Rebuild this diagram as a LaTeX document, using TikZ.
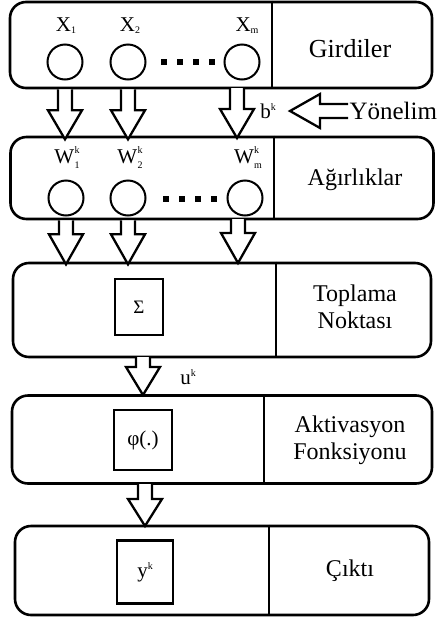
\documentclass[tikz,border=0pt]{standalone}
\usepackage{fontspec}
\setmainfont{Liberation Serif}
\usetikzlibrary{calc}
\newcommand{\subonly}[2]{#1\raisebox{-2pt}{\fontsize{10}{10}\selectfont #2}}
\newcommand{\suponly}[2]{#1\raisebox{8pt}{\fontsize{10}{10}\selectfont #2}}
\newcommand{\supsubA}[3]{#1\kern0.3pt\raisebox{-5pt}{\fontsize{10}{10}\selectfont\begin{tabular}[b]{@{}l@{}}#2\\[5pt]#3\end{tabular}}}
\tikzset{
  box/.style={draw, line width=2.6pt, rounded corners=16pt, inner sep=0pt},
  divline/.style={line width=2.4pt},
  circ/.style={draw, circle, line width=2pt, minimum size=35pt, inner sep=0pt},
  sq/.style={fill, minimum size=6.5pt, inner sep=0pt},
  opbox/.style={draw, line width=2.6pt, inner sep=0pt},
  lbl/.style={font=\fontsize{21}{21}\selectfont},
  side/.style={font=\fontsize{24}{27}\selectfont, align=center},
  arrline/.style={draw, fill=white, line width=2.3pt, line join=miter},
  pics/darrow/.style args={#1/#2}{code={
    \draw[arrline] (-7,0) -- (-7,#1-#2) -- (-17,#1-#2) -- (0,#1) -- (17,#1-#2) -- (7,#1-#2) -- (7,0);
  }},
}
\begin{document}
\begin{tikzpicture}[x=1pt,y=-1pt]
\useasboundingbox (0,0) rectangle (440,619);
% boxes
\node[box, minimum width=422pt, minimum height=86pt] (b1) at (221,45) {};
\node[box, minimum width=423pt, minimum height=82pt] (b2) at (222,178) {};
\node[box, minimum width=418pt, minimum height=94pt] (b3) at (222,310) {};
\node[box, minimum width=420pt, minimum height=88pt] (b4) at (222,439.5) {};
\node[box, minimum width=414pt, minimum height=89pt] (b5) at (222,570.5) {};
\draw[divline] ($(b1.north west)+(263,0)$) -- ($(b1.south west)+(263,0)$);
\draw[divline] ($(b2.north west)+(265,0)$) -- ($(b2.south west)+(265,0)$);
\draw[divline] ($(b3.north west)+(264,0)$) -- ($(b3.south west)+(264,0)$);
\draw[divline] ($(b4.north west)+(253,0)$) -- ($(b4.south west)+(253,0)$);
\draw[divline] ($(b5.north west)+(255,0)$) -- ($(b5.south west)+(255,0)$);
% side texts
\node[side, font=\fontsize{26}{27}\selectfont] (t1) at (350,49) {Girdiler};
\node[side] (t2) at (355,180) {Ağırlıklar};
\node[side] (t3) at (355,307) {Toplama\\Noktası};
\node[side] (t4) at (350,440) {Aktivasyon\\Fonksiyonu};
\node[side] (t5) at (350,571) {Çıktı};
% row 1
\node[circ] (x1) at (65,62) {};
\node[circ] (x2) at (128,62) {};
\node[circ] (xm) at (242,62) {};
\foreach \i/\x in {1/164,2/180,3/196,4/212} \node[sq] (d1\i) at (\x,62) {};
\node[lbl] (lx1) at (66,26) {\subonly{X}{1}};
\node[lbl] (lx2) at (130,26) {\subonly{X}{2}};
\node[lbl] (lxm) at (247,26) {\subonly{X}{m}};
% row 2
\node[circ] (w1) at (66,198) {};
\node[circ] (w2) at (128,198) {};
\node[circ] (wm) at (245,198) {};
\foreach \i/\x in {1/166,2/182,3/198,4/214} \node[sq] (d2\i) at (\x,199) {};
\node[lbl, anchor=base] (lw1) at (67,163) {\supsubA{W}{k}{1}};
\node[lbl, anchor=base] (lw2) at (130,163) {\supsubA{W}{k}{2}};
\node[lbl, anchor=base] (lwm) at (248,163) {\supsubA{W}{k}{m}};
% arrows between row1 and row2
\pic at (x1 |- b1.south) {darrow=50/29};
\pic at (x2 |- b1.south) {darrow=50/29};
\pic at (237,88) {darrow=50/29};
\node[lbl, anchor=base] (bk) at (268,118) {\suponly{b}{k}};
\pic[rotate=-90] at (348,111) {darrow=58/30};
\node[side, anchor=west, font=\fontsize{25}{27}\selectfont] (yon) at (346,111) {Yönelim};
% arrows between row2 and box3
\pic at (w1 |- b2.south) {darrow=44/30};
\pic at (w2 |- b2.south) {darrow=44/30};
\pic at (238,219) {darrow=44/30};
% sigma
\node[opbox, minimum width=48pt, minimum height=56pt, font=\fontsize{19}{19}\selectfont] (sig) at (139,307) {Σ};
\pic at (143,357) {darrow=38/28};
\node[lbl, anchor=base] (uk) at (188,384) {\suponly{u}{k}};
% phi
\node[opbox, minimum width=58pt, minimum height=60pt, font=\fontsize{21}{21}\selectfont] (phi) at (143,440) {φ(.)};
\pic at (145,484) {darrow=42/27};
% y
\node[opbox, minimum width=56pt, minimum height=63pt, font=\fontsize{21}{21}\selectfont] (yk) at (145,572) {\suponly{y}{k}};
\end{tikzpicture}
\end{document}
